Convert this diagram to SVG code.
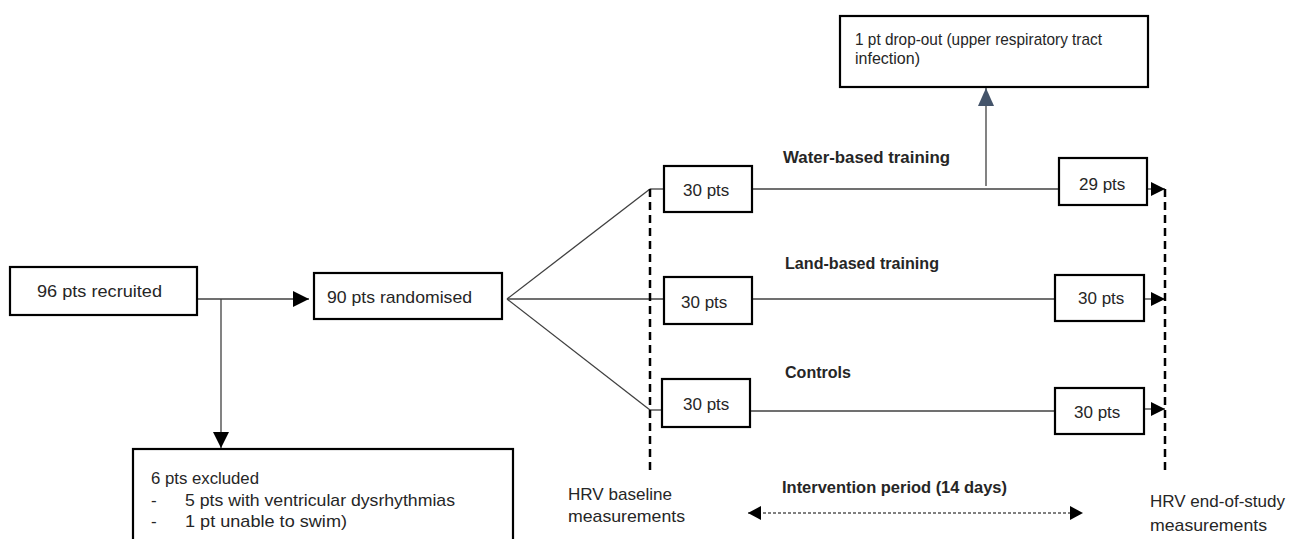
<svg xmlns="http://www.w3.org/2000/svg" width="1289" height="539" viewBox="0 0 1289 539">
<style>
  .box { fill: #ffffff; stroke: #000000; stroke-width: 2.2; }
  .t { font-family: "Liberation Sans", Arial, sans-serif; font-size: 17px; fill: #262626; }
  .b { font-family: "Liberation Sans", Arial, sans-serif; font-size: 16.5px; font-weight: bold; fill: #262626; }
  .ln { stroke: #404040; stroke-width: 1.3; fill: none; }
  .dash { stroke: #000000; stroke-width: 2.5; stroke-dasharray: 8 5; fill: none; }
  .fine { stroke: #000000; stroke-width: 1; stroke-dasharray: 3 2; fill: none; }
</style>
<defs>
  <marker id="ah" markerUnits="userSpaceOnUse" markerWidth="16" markerHeight="16" refX="16" refY="8" orient="auto">
    <path d="M0,0 L16,8 L0,16 z" fill="#000000"/>
  </marker>
  <marker id="ahs" markerUnits="userSpaceOnUse" markerWidth="14" markerHeight="14" refX="14" refY="7" orient="auto">
    <path d="M0,0 L14,7 L0,14 z" fill="#000000"/>
  </marker>
  <marker id="ahg" markerUnits="userSpaceOnUse" markerWidth="18" markerHeight="16" refX="18" refY="8" orient="auto">
    <path d="M0,0 L18,8 L0,16 z" fill="#44546A"/>
  </marker>
  <marker id="ahi" markerUnits="userSpaceOnUse" markerWidth="14" markerHeight="14" refX="13" refY="7" orient="auto-start-reverse">
    <path d="M0,0 L13,7 L0,14 z" fill="#000000"/>
  </marker>
</defs>

<g id="connectors">
  <line class="ln" x1="197" y1="299" x2="309" y2="299" marker-end="url(#ah)"/>
  <line class="ln" x1="221" y1="299" x2="221" y2="448" stroke="#000" marker-end="url(#ah)"/>
  <line class="ln" x1="507" y1="299" x2="650" y2="189"/>
  <line class="ln" x1="507" y1="299" x2="664" y2="299"/>
  <line class="ln" x1="507" y1="299" x2="650" y2="410"/>
  <line class="ln" x1="650" y1="189" x2="664" y2="189"/>
  <line class="ln" x1="650" y1="410" x2="662" y2="410"/>
  <line class="ln" x1="752" y1="189" x2="1059" y2="189"/>
  <line class="ln" x1="752" y1="299" x2="1055" y2="299"/>
  <line class="ln" x1="750" y1="411" x2="1055" y2="411"/>
  <line class="ln" x1="986" y1="186" x2="986" y2="88" stroke="#44546A" marker-end="url(#ahg)"/>
  <line class="ln" x1="1147" y1="189" x2="1165" y2="189" marker-end="url(#ahs)"/>
  <line class="ln" x1="1144" y1="299" x2="1165" y2="299" marker-end="url(#ahs)"/>
  <line class="ln" x1="1144" y1="409" x2="1165" y2="409" marker-end="url(#ahs)"/>
  <line class="dash" x1="650" y1="189" x2="650" y2="470"/>
  <line class="dash" x1="1165" y1="189" x2="1165" y2="470"/>
  <line class="fine" x1="748" y1="513" x2="1083" y2="513" marker-start="url(#ahi)" marker-end="url(#ahi)"/>
</g>

<g id="recruited">
  <rect class="box" x="10" y="267" width="187" height="48"/>
  <text class="t" x="37" y="297" textLength="125" lengthAdjust="spacingAndGlyphs">96 pts recruited</text>
</g>
<g id="randomised">
  <rect class="box" x="314" y="273" width="188" height="46"/>
  <text class="t" x="327" y="303" textLength="145" lengthAdjust="spacingAndGlyphs">90 pts randomised</text>
</g>
<g id="excluded">
  <rect class="box" x="133" y="449" width="380" height="100"/>
  <text class="t" x="151" y="484" textLength="108" lengthAdjust="spacingAndGlyphs">6 pts excluded</text>
  <text class="t" x="151" y="506">-</text>
  <text class="t" x="185" y="506" textLength="270" lengthAdjust="spacingAndGlyphs">5 pts with ventricular dysrhythmias</text>
  <text class="t" x="151" y="527">-</text>
  <text class="t" x="185" y="527" textLength="162" lengthAdjust="spacingAndGlyphs">1 pt unable to swim)</text>
</g>
<g id="water-start">
  <rect class="box" x="664" y="166" width="88" height="46"/>
  <text class="t" x="683" y="196">30 pts</text>
</g>
<g id="land-start">
  <rect class="box" x="664" y="277" width="88" height="47"/>
  <text class="t" x="681" y="308">30 pts</text>
</g>
<g id="control-start">
  <rect class="box" x="662" y="379" width="88" height="48"/>
  <text class="t" x="683" y="410">30 pts</text>
</g>
<g id="water-end">
  <rect class="box" x="1059" y="158" width="88" height="47"/>
  <text class="t" x="1079" y="190">29 pts</text>
</g>
<g id="land-end">
  <rect class="box" x="1055" y="275" width="89" height="46"/>
  <text class="t" x="1078" y="304">30 pts</text>
</g>
<g id="control-end">
  <rect class="box" x="1055" y="388" width="89" height="46"/>
  <text class="t" x="1074" y="418">30 pts</text>
</g>
<g id="dropout">
  <rect class="box" x="840" y="16" width="308" height="71"/>
  <text class="t" x="855" y="45" textLength="247" lengthAdjust="spacingAndGlyphs">1 pt drop-out (upper respiratory tract</text>
  <text class="t" x="855" y="64" textLength="65" lengthAdjust="spacingAndGlyphs">infection)</text>
</g>
<g id="labels">
  <text class="b" x="783" y="163" textLength="167" lengthAdjust="spacingAndGlyphs">Water-based training</text>
  <text class="b" x="785" y="269" textLength="154" lengthAdjust="spacingAndGlyphs">Land-based training</text>
  <text class="b" x="785" y="378" textLength="66" lengthAdjust="spacingAndGlyphs">Controls</text>
  <text class="b" x="782" y="493" textLength="225" lengthAdjust="spacingAndGlyphs">Intervention period (14 days)</text>
  <text class="t" x="568" y="500" textLength="104" lengthAdjust="spacingAndGlyphs">HRV baseline</text>
  <text class="t" x="568" y="522" textLength="117" lengthAdjust="spacingAndGlyphs">measurements</text>
  <text class="t" x="1150" y="507" textLength="135" lengthAdjust="spacingAndGlyphs">HRV end-of-study</text>
  <text class="t" x="1150" y="531" textLength="117" lengthAdjust="spacingAndGlyphs">measurements</text>
</g>
</svg>
